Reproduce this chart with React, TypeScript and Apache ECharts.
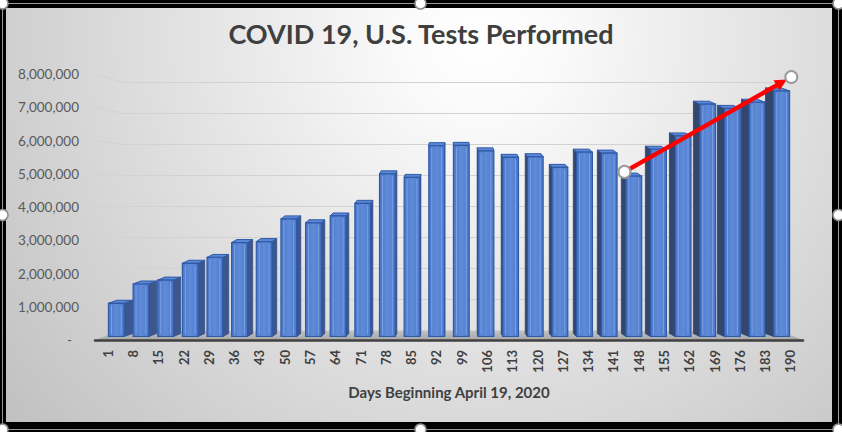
import React, { useEffect, useRef } from "react";
import * as echarts from "echarts";

const TITLE = "COVID 19, U.S. Tests Performed";
const X_NAME = "Days Beginning April 19, 2020";
const DAYS = ["1", "8", "15", "22", "29", "36", "43", "50", "57", "64", "71", "78", "85", "92", "99", "106", "113", "120", "127", "134", "141", "148", "155", "162", "169", "176", "183", "190"];
const TESTS = [1025000, 1620000, 1740000, 2260000, 2440000, 2900000, 2930000, 3630000, 3510000, 3720000, 4110000, 5020000, 4910000, 5890000, 5900000, 5730000, 5530000, 5550000, 5220000, 5690000, 5660000, 4950000, 5780000, 6190000, 7170000, 7040000, 7230000, 7580000];
const Y_MAX = 8000000;
const Y_STEP = 1000000;
// trend arrow: [category position (index), value]
const TREND_FROM = [20.62, 5080000];
const TREND_TO = [27.39, 8010000];

const FONT = "Lato, 'Open Sans', sans-serif";
const W = 842;
const H = 432;

const fmt = (v: number) => (v === 0 ? "-  " : String(v).replace(/\B(?=(\d{3})+(?!\d))/g, ","));

export default function App() {
  const ref = useRef<HTMLDivElement>(null);
  useEffect(() => {
    document.body.style.margin = "0";
    const chart = echarts.init(ref.current!, null, { renderer: "svg" });
    const gridA = { left: 95, right: 39, top: 74, bottom: 92 };
    const gridB = { left: 121, right: 65, top: 82, bottom: 102 };
    const gridC = { left: 104, right: 48, top: 77.3, bottom: 95.5 };
    const VP_X = 450;
    const DEPTH_K = 0.025;

    const frontGrad = new echarts.graphic.LinearGradient(0, 0, 1, 0, [
      { offset: 0, color: "#4a78cb" },
      { offset: 0.5, color: "#5f8bd8" },
      { offset: 1, color: "#4a78cb" },
    ]);

    const renderItem = (params: any, api: any) => {
      const i = api.value(0);
      const v = api.value(1);
      const top = api.coord([i, v]);
      const base = api.coord([i, 0]);
      const bw = api.size([1, 0])[0] * 0.64;
      const cx = top[0];
      const xl = cx - bw / 2;
      const xr = cx + bw / 2;
      const dx = DEPTH_K * (VP_X - cx);
      const dy = -3;
      const ty = top[1];
      const by = base[1];
      const children: any[] = [];
      if (dx > 0.3) {
        children.push({
          type: "polygon",
          shape: { points: [[xr, ty], [xr + dx, ty + dy], [xr + dx, by + dy], [xr, by]] },
          style: { fill: "#3b578d", stroke: "#2e4e8a", lineWidth: 0.8 },
        });
      } else if (dx < -0.3) {
        children.push({
          type: "polygon",
          shape: { points: [[xl, ty], [xl + dx, ty + dy], [xl + dx, by + dy], [xl, by]] },
          style: { fill: "#33466d", stroke: "#2c4170", lineWidth: 0.8 },
        });
      }
      children.push({
        type: "polygon",
        shape: { points: [[xl, ty], [xr, ty], [xr + dx, ty + dy], [xl + dx, ty + dy]] },
        style: { fill: "#5b88d8", stroke: "#2f5aa6", lineWidth: 1 },
      });
      children.push({
        type: "rect",
        shape: { x: xl, y: ty, width: bw, height: by - ty },
        style: { fill: frontGrad, stroke: "#2f5aa6", lineWidth: 1.2 },
      });
      children.push({
        type: "line",
        shape: { x1: xl + 3, y1: ty + 2, x2: xl + 3, y2: by - 2 },
        style: { stroke: "rgba(140,172,232,0.75)", lineWidth: 1 },
      });
      children.push({
        type: "line",
        shape: { x1: xr - 3, y1: ty + 2, x2: xr - 3, y2: by - 2 },
        style: { stroke: "rgba(140,172,232,0.75)", lineWidth: 1 },
      });
      return { type: "group", children };
    };

    chart.setOption({
      animation: false,
      backgroundColor: "#000",
      title: {
        text: TITLE,
        left: "center",
        top: 15,
        textStyle: { fontFamily: FONT, fontWeight: "bold", fontSize: 27, color: "#3f3f3f" },
      },
      grid: [
        { ...gridA, outerBoundsMode: "none" },
        { ...gridB, outerBoundsMode: "none" },
        { ...gridC, outerBoundsMode: "none" },
      ],
      xAxis: [
        {
          gridIndex: 0,
          type: "category",
          data: DAYS,
          axisLine: { lineStyle: { color: "#404040", width: 2.5 } },
          axisTick: { show: false },
          axisLabel: { rotate: 90, interval: 0, margin: 10, fontWeight: "bold", fontSize: 13, color: "#404040", fontFamily: FONT },
          name: X_NAME,
          nameLocation: "middle",
          nameGap: 44,
          nameTextStyle: { fontFamily: FONT, fontWeight: "bold", fontSize: 15, color: "#404040" },
        },
        { gridIndex: 1, type: "category", data: DAYS, axisLine: { show: false }, axisTick: { show: false }, axisLabel: { show: false } },
        { gridIndex: 2, type: "category", data: DAYS, show: false },
      ],
      yAxis: [
        {
          gridIndex: 0,
          type: "value",
          min: 0,
          max: Y_MAX,
          interval: Y_STEP,
          axisLine: { show: false },
          axisTick: { show: false },
          splitLine: { show: false },
          axisLabel: { formatter: fmt, fontSize: 13.5, color: "#595959", margin: 16, fontFamily: FONT },
        },
        {
          gridIndex: 1,
          type: "value",
          min: 0,
          max: Y_MAX,
          interval: Y_STEP,
          axisLine: { show: false },
          axisTick: { show: false },
          axisLabel: { show: false },
          splitLine: { show: true, lineStyle: { color: "#d2d2d2", width: 1.2 } },
        },
        { gridIndex: 2, type: "value", min: 0, max: Y_MAX, show: false },
      ],
      series: [
        {
          type: "custom",
          xAxisIndex: 2,
          yAxisIndex: 2,
          z: 5,
          data: TESTS.map((v, i) => [i, v]),
          encode: { x: 0, y: 1 },
          renderItem,
        },
      ],
    });

    // derived decoration positions
    const yA = (v: number) => chart.convertToPixel({ yAxisIndex: 0 } as any, v) as number;
    const yB = (v: number) => chart.convertToPixel({ yAxisIndex: 1 } as any, v) as number;
    const aL = gridA.left;
    const aR = W - gridA.right;
    const bL = gridB.left;
    const bR = W - gridB.right;
    const c0 = chart.convertToPixel({ gridIndex: 2 } as any, [0, 0]) as number[];
    const c1 = chart.convertToPixel({ gridIndex: 2 } as any, [1, 0]) as number[];
    const band = c1[0] - c0[0];
    const pC = (p: number[]) => {
      const y = (chart.convertToPixel({ gridIndex: 2 } as any, [0, p[1]]) as number[])[1];
      return [c0[0] + p[0] * band, y];
    };
    const s = pC(TREND_FROM);
    const e = pC(TREND_TO);
    const len = Math.hypot(e[0] - s[0], e[1] - s[1]);
    const ux = (e[0] - s[0]) / len;
    const uy = (e[1] - s[1]) / len;
    const tip = [e[0] - ux * 5, e[1] - uy * 5];
    const hl = 12;
    const hw = 6;
    const backP = [tip[0] - ux * hl, tip[1] - uy * hl];
    const arrowHead = [tip, [backP[0] - uy * hw, backP[1] + ux * hw], [backP[0] + uy * hw, backP[1] - ux * hw]];

    const elements: any[] = [];
    elements.push({
      type: "rect",
      z: -100,
      silent: true,
      shape: { x: 6, y: 8, width: 826, height: 414 },
      style: {
        fill: new echarts.graphic.RadialGradient(480, 40, 640, [
          { offset: 0, color: "#ffffff" },
          { offset: 0.12, color: "#fafafa" },
          { offset: 1, color: "#bdbdbd" },
        ], true),
      },
    });
    // floor
    elements.push({
      type: "polygon",
      z: -5,
      silent: true,
      shape: { points: [[aL, yA(0)], [aR, yA(0)], [bR, yB(0)], [bL, yB(0)]] },
      style: {
        fill: new echarts.graphic.LinearGradient(0, 0, 0, 1, [
          { offset: 0, color: "#c6c6c6" },
          { offset: 1, color: "#a6a6a6" },
        ]),
      },
    });
    // side wall gridline segments
    for (let v = Y_STEP; v <= Y_MAX; v += Y_STEP) {
      elements.push({
        type: "line",
        z: -4,
        silent: true,
        shape: { x1: aL, y1: yA(v), x2: bL, y2: yB(v) },
        style: { stroke: "#d2d2d2", lineWidth: 1.2 },
      });
    }
    // trend arrow
    elements.push({
      type: "line",
      z: 20,
      shape: { x1: s[0], y1: s[1], x2: backP[0] + ux * 2, y2: backP[1] + uy * 2 },
      style: { stroke: "#ff0000", lineWidth: 4.5 },
    });
    elements.push({ type: "polygon", z: 20, shape: { points: arrowHead }, style: { fill: "#ff0000" } });
    for (const p of [s, e]) {
      elements.push({ type: "circle", z: 21, shape: { cx: p[0], cy: p[1], r: 6 }, style: { fill: "#ffffff", stroke: "#9a9a9a", lineWidth: 2 } });
    }
    // selection frame
    const fl = { stroke: "#9a9a9a", lineWidth: 1 };
    elements.push({ type: "line", z: 30, shape: { x1: 0, y1: 3.5, x2: W, y2: 3.5 }, style: fl });
    elements.push({ type: "line", z: 30, shape: { x1: 0, y1: 429.5, x2: W, y2: 429.5 }, style: fl });
    elements.push({ type: "line", z: 30, shape: { x1: 2.5, y1: 0, x2: 2.5, y2: H }, style: fl });
    elements.push({ type: "line", z: 30, shape: { x1: 838.5, y1: 0, x2: 838.5, y2: H }, style: fl });
    const handles = [[2.5, 3.5], [420.5, 3.5], [838.5, 3.5], [2.5, 215], [838.5, 215], [2.5, 429.5], [420.5, 429.5], [838.5, 429.5]];
    for (const h of handles) {
      elements.push({ type: "circle", z: 31, shape: { cx: h[0], cy: h[1], r: 5.5 }, style: { fill: "#ffffff", stroke: "#8f8f8f", lineWidth: 1.5 } });
    }
    chart.setOption({ graphic: { elements } });

    return () => chart.dispose();
  }, []);
  return <div ref={ref} style={{ width: W, height: H, background: "#000" }} />;
}
